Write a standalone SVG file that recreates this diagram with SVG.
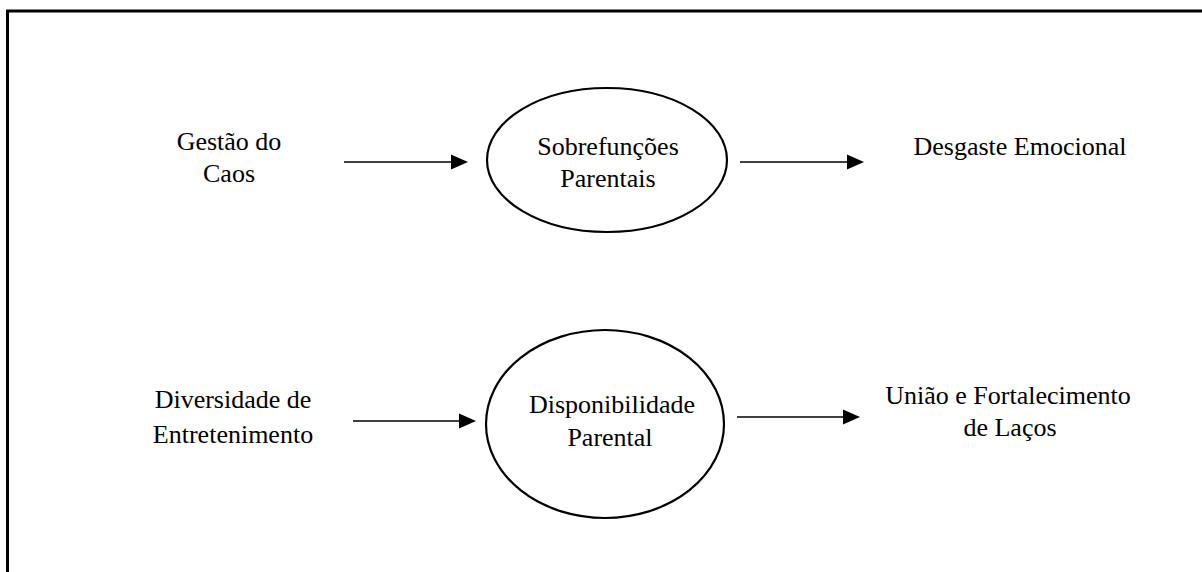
<svg xmlns="http://www.w3.org/2000/svg" width="1202" height="572" viewBox="0 0 1202 572">
<style>
text{font-family:"Liberation Serif","Times New Roman",serif;font-size:26px;fill:#000;text-anchor:middle}
.ell{fill:none;stroke:#000;stroke-width:2.2}
.arr{stroke:#000;stroke-width:1.6;fill:none}
.head{fill:#000}
.frame{stroke:#000;stroke-width:3;fill:none}
</style>
<rect width="1202" height="572" fill="#fff"/>
<path class="frame" d="M7.5,572 V11 H1202"/>
<g id="gestao">
<text x="229" y="150">Gestão do</text>
<text x="229" y="182">Caos</text>
</g>
<g id="sobrefuncoes">
<ellipse class="ell" cx="607" cy="160" rx="120" ry="72"/>
<text x="608" y="155">Sobrefunções</text>
<text x="608" y="187">Parentais</text>
</g>
<g id="desgaste">
<text x="1020" y="155">Desgaste Emocional</text>
</g>
<g id="diversidade">
<text x="233" y="408">Diversidade de</text>
<text x="233" y="443">Entretenimento</text>
</g>
<g id="disponibilidade">
<ellipse class="ell" cx="605" cy="424" rx="119" ry="94"/>
<text x="612" y="413">Disponibilidade</text>
<text x="610" y="446">Parental</text>
</g>
<g id="uniao">
<text x="1008" y="404">União e Fortalecimento</text>
<text x="1010" y="436">de Laços</text>
</g>
<g id="connectors">
<line class="arr" x1="344" y1="162" x2="452" y2="162"/>
<polygon class="head" points="468,162 451,154.5 451,169.5"/>
<line class="arr" x1="740" y1="162" x2="848" y2="162"/>
<polygon class="head" points="864,162 847,154.5 847,169.5"/>
<line class="arr" x1="353" y1="421" x2="460" y2="421"/>
<polygon class="head" points="476,421 459,413.5 459,428.5"/>
<line class="arr" x1="737" y1="417" x2="844" y2="417"/>
<polygon class="head" points="860,417 843,409.5 843,424.5"/>
</g>
</svg>
